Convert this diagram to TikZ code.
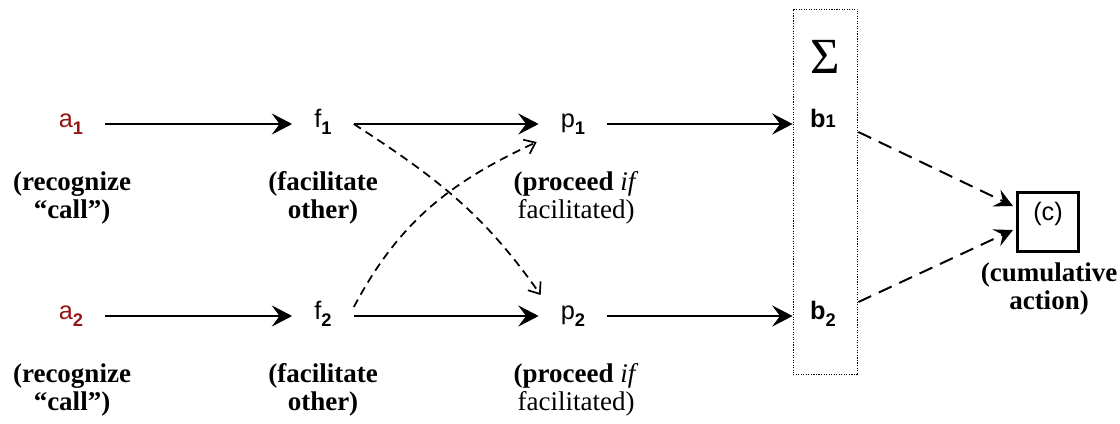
\documentclass[tikz,border=0pt]{standalone}
\usepackage{fontspec}
\setmainfont{Liberation Serif}
\newfontfamily\labelsans{Liberation Sans}
\usepackage{tikz}
\usetikzlibrary{arrows.meta}
\usetikzlibrary{calc}
\tikzset{>={Stealth[length=14.5pt, width=15pt, inset=5.5pt]}}
\definecolor{callred}{RGB}{150,22,22}
\newcommand{\lbsub}[1]{\raisebox{-5.5pt}{\fontsize{13}{13}\selectfont\bfseries #1}}

\begin{document}
\begin{tikzpicture}[x=.025cm, y=.025cm,
    var/.style={anchor=mid, inner xsep=15.6pt, inner ysep=2pt, font=\labelsans\fontsize{18}{18}\selectfont},
    note/.style={anchor=base, align=center, inner sep=0pt, font=\fontsize{19.2}{19.3}\selectfont},
    mainarrow/.style={->, line width=1.4pt},
    crossarrow/.style={-{Straight Barb[length=7pt, width=11pt, line width=1.2pt]}, dash pattern=on 6pt off 4pt, line width=1.25pt},
    sumarrow/.style={-{Stealth[length=13pt, width=13pt, inset=5pt]}, dash pattern=on 10pt off 6pt, line width=1.4pt}]
    \useasboundingbox (0,0) rectangle (1120,-423);
    % summing column
    \node[draw, densely dotted, line width=.8pt, minimum width=46pt, minimum height=260pt, inner sep=0pt](S)at(825.5,-192){};
    \node[inner sep=0pt, font=\fontsize{36}{36}\selectfont](sigma)at(825,-57){Σ};
    % first row
    \node[var, text=callred](a1)at(71,-124){a\lbsub{1}};
    \node[var](f1)at(323,-124){f\lbsub{1}};
    \node[var](p1)at(573,-124){p\lbsub{1}};
    \node[var, font=\labelsans\fontsize{18}{18}\selectfont\bfseries](b1)at(823,-124){b{\fontsize{13}{13}\selectfont 1}};
    \node[note](a1note)at(72,-218){\textbf{(recognize}\\\textbf{``call'')}};
    \node[note](f1note)at(323,-218){\textbf{(facilitate}\\\textbf{other)}};
    \node[note](p1note)at(576,-218){\textbf{(proceed} \textit{if}\\facilitated)};
    % second row
    \node[var, text=callred](a2)at(71,-316){a\lbsub{2}};
    \node[var](f2)at(323,-316){f\lbsub{2}};
    \node[var](p2)at(573,-316){p\lbsub{2}};
    \node[var, font=\labelsans\fontsize{18}{18}\selectfont\bfseries](b2)at(823,-316){b\lbsub{2}};
    \node[note](a2note)at(72,-410){\textbf{(recognize}\\\textbf{``call'')}};
    \node[note](f2note)at(323,-410){\textbf{(facilitate}\\\textbf{other)}};
    \node[note](p2note)at(576,-410){\textbf{(proceed} \textit{if}\\facilitated)};
    % cumulative action
    \node[draw, line width=2pt, minimum width=43.5pt, minimum height=41.5pt, inner sep=0pt, text depth=15pt, font=\labelsans\fontsize{18}{18}\selectfont](c)at(1048,-222){(c)};
    \node[note](cnote)at(1049,-309){\textbf{(cumulative}\\\textbf{action)}};
    \draw[mainarrow](a1.mid east)--(f1.mid west);
    \draw[mainarrow](f1.mid east)--(p1.mid west);
    \draw[mainarrow](p1.mid east)--(p1.mid east -| S.west);
    \draw[mainarrow](a2.mid east)--(f2.mid west);
    \draw[mainarrow](f2.mid east)--(p2.mid west);
    \draw[mainarrow](p2.mid east)--(p2.mid east -| S.west);
    \draw[crossarrow](f1.mid east)to[out=-33, in=125]($(p2.mid west)+(2,21)$);
    \draw[crossarrow]($(f2.mid east)+(0,9)$)to[out=62, in=205]($(p1.mid west)+(-2,-18)$);
    \draw[sumarrow]($(S.east |- b1.mid)+(0,-8)$)--($(c.west)+(-3,16)$);
    \draw[sumarrow]($(S.east |- b2.mid)+(0,14)$)--($(c.west)+(-3,-8)$);
\end{tikzpicture}
\end{document}
